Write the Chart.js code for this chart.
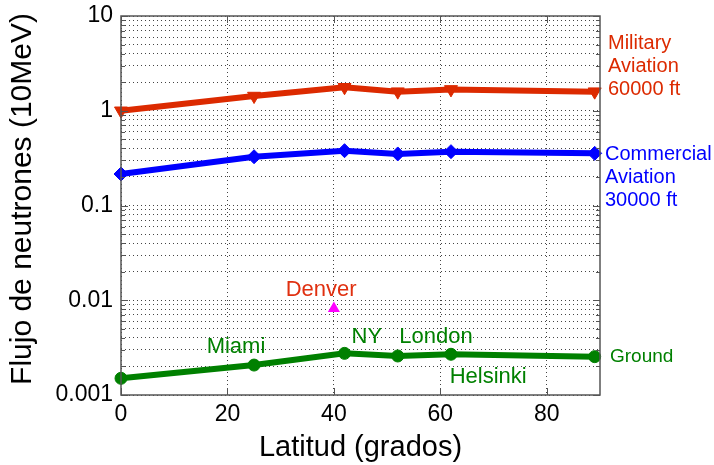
<!DOCTYPE html>
<html>
<head>
<meta charset="utf-8">
<script src="https://cdn.jsdelivr.net/npm/chart.js@4/dist/chart.umd.min.js"></script>
<style>
  html, body { margin: 0; padding: 0; background: #fff; }
  #wrap { width: 714px; height: 465px; }
</style>
</head>
<body>
<div id="wrap"><canvas id="chart" width="714" height="465"></canvas></div>
<script>
// latitudes of the measurement points (degrees)
var latitudes = [0, 25, 42, 52, 62, 89];
// neutron flux, one array per altitude
var military = [1.0, 1.43, 1.77, 1.59, 1.68, 1.59];
var commercial = [0.215, 0.327, 0.379, 0.35, 0.37, 0.355];
var ground = [0.0015, 0.00207, 0.00275, 0.00258, 0.00269, 0.00254];
// single Denver point
var denverLat = [40];
var denverFlux = [0.0082];

var xTicks = [0, 20, 40, 60, 80];
var yDecades = [0.001, 0.01, 0.1, 1, 10];
var yTickLabels = ['0.001', '0.01', '0.1', '1', '10'];

// text on the plot: label, latitude, flux
var cityNames = ['Miami', 'NY', 'London', 'Helsinki', 'Denver'];
var cityLat = [21.6, 46.2, 59.2, 69, 37.6];
var cityFlux = [0.0032, 0.0041, 0.0041, 0.00156, 0.0128];
var cityColor = ['#008000', '#008000', '#008000', '#008000', '#e03010'];

var FONT = "'Liberation Sans', Arial, sans-serif";

function toPoints(xs, ys) {
    return xs.map(function(x, i) { return {x: x, y: ys[i]}; });
}

var cdata = {
    datasets: [
        {
            label: 'Military',
            data: toPoints(latitudes, military),
            borderColor: '#dc2a00',
            backgroundColor: '#dc2a00',
            borderWidth: 6,
            pointStyle: 'triangle',
            pointRotation: 180,
            pointRadius: 7.5,
            pointBorderWidth: 1,
            tension: 0,
            clip: false
        },
        {
            label: 'Commercial',
            data: toPoints(latitudes, commercial),
            borderColor: '#0000ff',
            backgroundColor: '#0000ff',
            borderWidth: 6,
            pointStyle: 'rectRot',
            pointRadius: 7,
            pointBorderWidth: 1,
            tension: 0,
            clip: false
        },
        {
            label: 'Ground',
            data: toPoints(latitudes, ground),
            borderColor: '#008000',
            backgroundColor: '#008000',
            borderWidth: 6,
            pointStyle: 'circle',
            pointRadius: 6,
            pointBorderWidth: 1,
            tension: 0,
            clip: false
        },
        {
            label: 'Denver',
            data: toPoints(denverLat, denverFlux),
            showLine: false,
            borderColor: '#ff00ff',
            backgroundColor: '#ff00ff',
            borderWidth: 0,
            pointStyle: 'triangle',
            pointRadius: 7,
            clip: false
        }
    ]
};

// frame, inner tick marks and text labels
var decorations = {
    id: 'decorations',
    afterDatasetsDraw: function(chart) {
        var ctx = chart.ctx;
        var a = chart.chartArea;
        var xs = chart.scales.x, ys = chart.scales.y;
        ctx.save();
        ctx.strokeStyle = '#555';
        ctx.lineWidth = 1.5;
        ctx.strokeRect(a.left, a.top, a.right - a.left, a.bottom - a.top);
        ctx.lineWidth = 1;
        ctx.beginPath();
        ys.ticks.forEach(function(t) {
            var py = Math.round(ys.getPixelForValue(t.value)) + 0.5;
            var len = t.major ? 7 : 4;
            ctx.moveTo(a.left, py); ctx.lineTo(a.left + len, py);
            ctx.moveTo(a.right, py); ctx.lineTo(a.right - len, py);
        });
        xs.ticks.forEach(function(t) {
            var px = Math.round(xs.getPixelForValue(t.value)) + 0.5;
            ctx.moveTo(px, a.bottom); ctx.lineTo(px, a.bottom - 7);
            ctx.moveTo(px, a.top); ctx.lineTo(px, a.top + 7);
        });
        ctx.stroke();

        ctx.textBaseline = 'middle';
        ctx.textAlign = 'center';
        ctx.font = '22px ' + FONT;
        cityNames.forEach(function(name, i) {
            ctx.fillStyle = cityColor[i];
            ctx.fillText(name, xs.getPixelForValue(cityLat[i]), ys.getPixelForValue(cityFlux[i]));
        });

        // series labels at the right of the plot
        ctx.textAlign = 'left';
        ctx.font = '20px ' + FONT;
        var x0 = a.right + 6;
        ctx.fillStyle = '#dc2a00';
        ['Military', 'Aviation', '60000 ft'].forEach(function(s, i) {
            ctx.fillText(s, x0 + 2, 43 + i * 23);
        });
        ctx.fillStyle = '#0000ff';
        ['Commercial', 'Aviation', '30000 ft'].forEach(function(s, i) {
            ctx.fillText(s, x0 - 1, 154 + i * 23);
        });
        ctx.fillStyle = '#008000';
        ctx.font = '19px ' + FONT;
        ctx.fillText('Ground', x0 + 4, ys.getPixelForValue(ground[ground.length - 1]));

        // y axis title
        ctx.translate(23, 199);
        ctx.rotate(-Math.PI / 2);
        ctx.textAlign = 'center';
        ctx.fillStyle = '#000';
        ctx.font = '30px ' + FONT;
        ctx.fillText('Flujo de neutrones (10MeV)', 0, 0);
        ctx.restore();
    }
};

var ctx1 = document.getElementById('chart').getContext('2d');
var chart = new Chart(ctx1, {
    type: 'line',
    data: cdata,
    plugins: [decorations],
    options: {
        responsive: false,
        animation: false,
        layout: { padding: { top: 16, right: 114, left: 0, bottom: 0 } },
        plugins: { legend: { display: false }, tooltip: { enabled: false } },
        scales: {
            x: {
                type: 'linear',
                min: 0,
                max: 90,
                afterBuildTicks: function(scale) {
                    scale.ticks = xTicks.map(function(v) { return {value: v}; });
                },
                afterFit: function(scale) {
                    scale.height = 70;
                    scale.paddingLeft = 0;
                    scale.paddingRight = 0;
                },
                grid: { color: '#444', lineWidth: 1, drawTicks: false },
                border: { display: false, dash: [1, 3] },
                ticks: {
                    color: '#000',
                    padding: 6,
                    maxRotation: 0,
                    font: { family: FONT, size: 23 }
                },
                title: {
                    display: true,
                    text: 'Latitud (grados)',
                    color: '#000',
                    font: { family: FONT, size: 29 },
                    padding: { top: 0, bottom: 0 }
                }
            },
            y: {
                type: 'logarithmic',
                min: 0.001,
                max: 10,
                afterBuildTicks: function(scale) {
                    var ticks = [];
                    for (var d = 0; d < yDecades.length - 1; d++) {
                        for (var k = 1; k < 10; k++) {
                            ticks.push({value: k * yDecades[d], major: k === 1});
                        }
                    }
                    ticks.push({value: yDecades[yDecades.length - 1], major: true});
                    scale.ticks = ticks;
                },
                afterFit: function(scale) {
                    scale.width = 121;
                    scale.paddingTop = 0;
                    scale.paddingBottom = 0;
                },
                grid: { color: '#444', lineWidth: 1, drawTicks: false },
                border: { display: false, dash: [1, 3] },
                ticks: {
                    color: '#000',
                    padding: 8,
                    autoSkip: false,
                    font: { family: FONT, size: 23 },
                    callback: function(value) {
                        var idx = yDecades.findIndex(function(d) { return Math.abs(d - value) < d * 1e-6; });
                        return idx >= 0 ? yTickLabels[idx] : '';
                    }
                },
                title: { display: false }
            }
        }
    }
});
</script>
</body>
</html>
